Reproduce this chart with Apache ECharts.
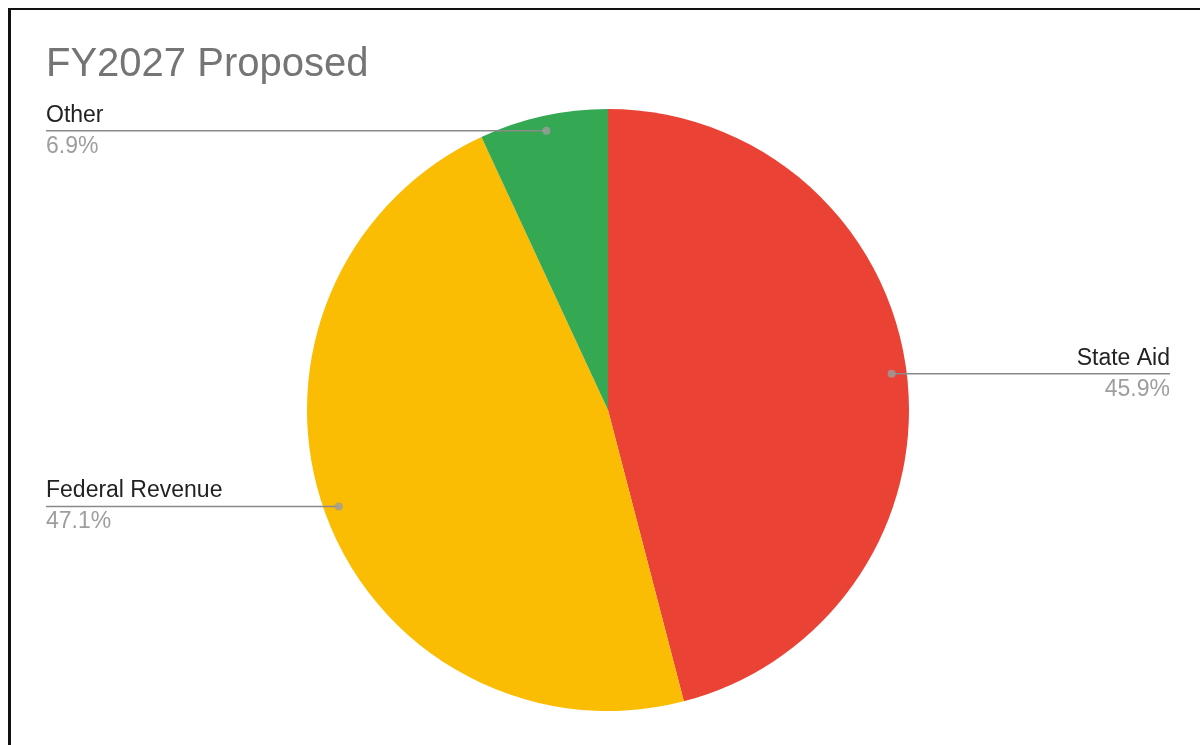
<!DOCTYPE html>
<html>
<head>
<meta charset="utf-8">
<script src="https://cdn.jsdelivr.net/npm/echarts@6/dist/echarts.min.js"></script>
<style>
  html, body { margin: 0; padding: 0; background: #fff; }
  body { width: 1200px; height: 745px; position: relative; overflow: hidden; }
  #frame {
    position: absolute; left: 8px; top: 8px; width: 1300px; height: 800px;
    border-left: 3px solid #111; border-top: 2px solid #111; pointer-events: none;
  }
  #chart { position: absolute; left: 16px; top: 0; width: 1184px; height: 745px; }
</style>
</head>
<body>
<div id="chart"></div>
<div id="frame"></div>
<script>
  // data
  const categories = ['State Aid', 'Federal Revenue', 'Other'];
  const shares = [45.9, 47.1, 6.9];
  const colors = ['#EA4335', '#FBBC04', '#34A853'];

  const total = shares.reduce((a, b) => a + b, 0);
  // midpoint of each slice along the angle axis (same scale as the pie)
  const mids = [];
  let acc = 0;
  for (let i = 0; i < shares.length; i++) {
    mids.push(acc + shares[i] / 2);
    acc += shares[i];
  }

  const pieData = categories.map((c, i) => ({
    name: c,
    value: shares[i],
    itemStyle: { color: colors[i] }
  }));

  const chartDom = document.getElementById('chart');
  const myChart = echarts.init(chartDom);

  const CENTER = [592, 410];
  const R = 301;
  const FONT = 'Liberation Sans, Arial, sans-serif';

  const option = {
    animation: false,
    title: {
      text: 'FY2027 Proposed',
      left: 30,
      top: 45,
      padding: 0,
      textStyle: {
        fontFamily: FONT,
        fontSize: 40,
        fontWeight: 'normal',
        color: '#757575'
      }
    },
    polar: { center: CENTER, radius: R },
    angleAxis: {
      type: 'value', min: 0, max: total, startAngle: 90, clockwise: true, show: false
    },
    radiusAxis: { type: 'value', min: 0, max: 1, show: false },
    series: [
      {
        type: 'pie',
        center: CENTER,
        radius: R,
        startAngle: 90,
        clockwise: true,
        silent: true,
        label: { show: false },
        labelLine: { show: false },
        data: pieData,
        z: 1
      },
      {
        // invisible ring that only carries the labels and their lines
        type: 'pie',
        center: CENTER,
        radius: R * 0.95,
        startAngle: 90,
        clockwise: true,
        silent: true,
        itemStyle: { color: 'rgba(0,0,0,0)' },
        data: categories.map((c, i) => ({ name: c, value: shares[i] })),
        label: {
          alignTo: 'edge',
          edgeDistance: 30,
          formatter: '{name|{b}}\n{pct|{c}%}',
          fontFamily: FONT,
          rich: {
            name: { fontSize: 23, color: '#222222', lineHeight: 31, fontFamily: FONT },
            pct: { fontSize: 23, color: '#9E9E9E', lineHeight: 31, fontFamily: FONT }
          }
        },
        labelLine: {
          length: 0,
          length2: 10,
          lineStyle: { color: '#8A8A8A', width: 1.6 }
        },
        labelLayout: function (params) {
          const isLeft = params.labelRect.x < myChart.getWidth() / 2;
          const points = params.labelLinePoints;
          points[2][0] = isLeft ? params.labelRect.x : params.labelRect.x + params.labelRect.width;
          return { labelLinePoints: points };
        },
        z: 3
      },
      {
        type: 'scatter',
        coordinateSystem: 'polar',
        symbol: 'circle',
        symbolSize: 8,
        silent: true,
        itemStyle: { color: '#9E9E9E' },
        data: mids.map(m => [0.95, m]),
        z: 4
      }
    ]
  };

  myChart.setOption(option);
</script>
</body>
</html>
